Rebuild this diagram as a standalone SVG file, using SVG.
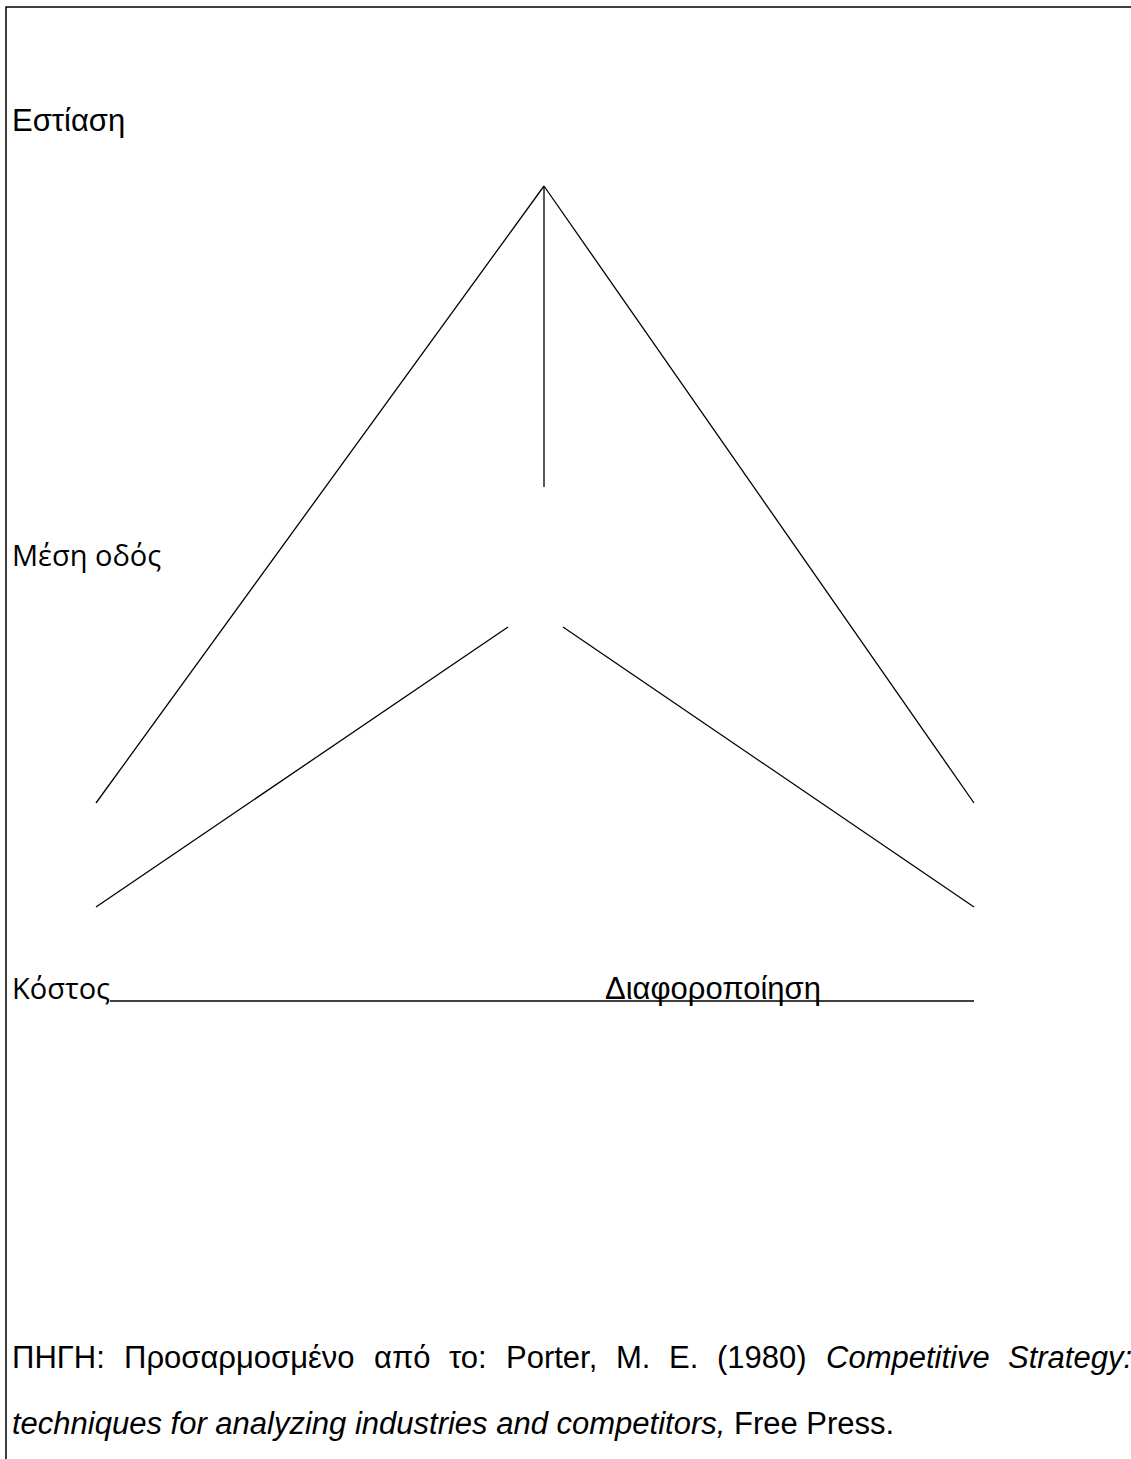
<svg xmlns="http://www.w3.org/2000/svg" width="1131" height="1459" viewBox="0 0 1131 1459">
<style>
.ln{stroke:#000;stroke-width:1.3;fill:none}
.fr{stroke:#000;stroke-width:1.5;fill:none}
.t{font-family:"Liberation Sans",Arial,sans-serif;font-size:31px;fill:#000}
.s{font-family:"Open Sans","Noto Sans",sans-serif;font-size:29px;fill:#000}
.i{font-style:italic}
</style>
<rect width="1131" height="1459" fill="#fff"/>
<g id="frame">
<path class="fr" d="M6,1459 V7 H1131"/>
</g>
<g id="connectors">
<line class="ln" x1="544" y1="186" x2="96" y2="803"/>
<line class="ln" x1="544" y1="186" x2="974" y2="803"/>
<line class="ln" x1="544" y1="186" x2="544" y2="487"/>
<line class="ln" x1="508" y1="627" x2="96" y2="907"/>
<line class="ln" x1="563" y1="627" x2="974" y2="907"/>
<line class="ln" x1="110" y1="1001" x2="974" y2="1001"/>
</g>
<g id="focus"><text class="t" x="12" y="131">Εστίαση</text></g>
<g id="middle"><text class="s" x="12" y="566">Μέση οδός</text></g>
<g id="cost"><text class="s" x="12" y="999">Κόστος</text></g>
<g id="diff"><text class="t" x="605" y="999">Διαφοροποίηση</text></g>
<g id="source">
<text class="t" y="1368"><tspan x="12">ΠΗΓΗ:</tspan><tspan x="124">Προσαρμοσμένο</tspan><tspan x="374">από</tspan><tspan x="449">το:</tspan><tspan x="506">Porter,</tspan><tspan x="616">M.</tspan><tspan x="669">E.</tspan><tspan x="717">(1980)</tspan><tspan x="826" class="i">Competitive</tspan><tspan x="1008" class="i">Strategy:</tspan></text>
<text class="t" y="1434"><tspan x="12" class="i">techniques for analyzing industries and competitors,</tspan> Free Press.</text>
</g>
</svg>
